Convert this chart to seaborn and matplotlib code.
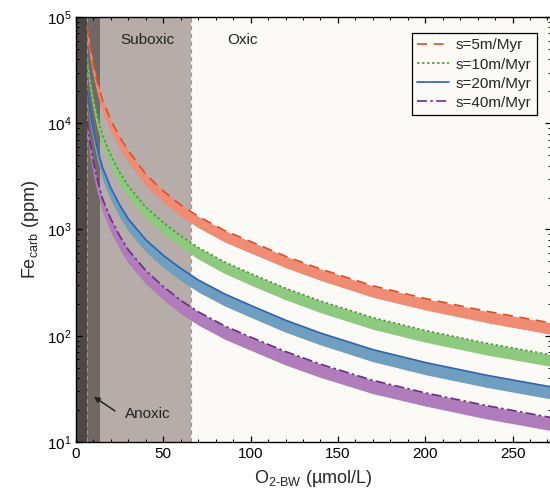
import numpy as np
import matplotlib
matplotlib.use("Agg")
import matplotlib.pyplot as plt
import seaborn as sns
from matplotlib.ticker import MultipleLocator, LogLocator

# O2 values (umol/L) where curves were read
o2 = [6.4, 7, 8, 10, 12, 15, 20, 25, 30, 40, 50, 60, 70, 85, 100, 120, 140, 170, 200, 235, 272]

# upper edge (line) and lower edge (band) of each burial-rate curve, ppm
s5_top = [80500, 68000, 53000, 35000, 25000, 16800, 10600, 7400, 5500, 3300, 2300, 1700, 1330, 980, 770, 560, 425, 295, 224, 170, 132]
s5_low = [62800, 53000, 41300, 27300, 19500, 13100, 8270, 5770, 4290, 2570, 1790, 1330, 1040, 764, 600, 437, 332, 230, 175, 133, 103]
s10_top = [42000, 34000, 26000, 16800, 11800, 7800, 4950, 3450, 2550, 1620, 1160, 870, 675, 495, 385, 280, 212, 148, 112, 85, 66]
s10_low = [32800, 26500, 20300, 13100, 9200, 6080, 3860, 2690, 1990, 1260, 905, 679, 527, 386, 300, 218, 165, 115, 87, 66, 51.5]
s20_top = [20500, 17000, 13000, 8500, 6000, 3900, 2450, 1700, 1250, 800, 570, 430, 335, 248, 193, 140, 106, 74, 56, 42.5, 33]
s20_low = [15800, 13100, 10000, 6550, 4620, 3000, 1890, 1310, 963, 616, 439, 331, 258, 191, 149, 108, 82, 57, 43, 32.7, 25.4]
s40_top = [10500, 8600, 6600, 4300, 3050, 1980, 1250, 870, 640, 410, 290, 215, 168, 124, 97, 71, 54, 38, 29, 22, 17]
s40_low = [7880, 6450, 4950, 3230, 2290, 1490, 940, 650, 480, 308, 218, 161, 126, 93, 73, 53, 40.5, 28.5, 21.8, 16.5, 12.8]

labels = ["s=5m/Myr", "s=10m/Myr", "s=20m/Myr", "s=40m/Myr"]

# redox zone boundaries
anoxic_edge = 6.3
anoxic_mid = 13.7
suboxic_edge = 66

sns.set_style("ticks")
plt.rcParams["font.family"] = ["Liberation Sans", "DejaVu Sans"]
plt.rcParams["mathtext.default"] = "regular"

fig = plt.figure(figsize=(5.5, 4.94), dpi=100)
ax = fig.add_axes([0.1382, 0.1053, 0.8636, 0.8603])
ax.set_facecolor("#fcfaf7")

# background zones
ax.axvspan(0, suboxic_edge, color="#b6aca9", lw=0, zorder=0)
ax.axvspan(0, anoxic_mid, color="#716765", lw=0, zorder=0)
ax.axvspan(0, anoxic_edge, color="#4f4745", lw=0, zorder=0)
for xv in [anoxic_edge, suboxic_edge]:
    ax.axvline(xv, color="#9a9a9a", lw=0.8, ls=(0, (4, 3)), zorder=1)

bands = [s5_low, s10_low, s20_low, s40_low]
tops = [s5_top, s10_top, s20_top, s40_top]
band_cols = ["#f08b74", "#8ec980", "#6f9ec0", "#b07cbc"]
line_cols = ["#d4532f", "#4e9a3a", "#2f62a8", "#6a2e80"]
styles = [(0, (6, 4)), (0, (1.5, 1.5)), "-", (0, (6, 2, 1.5, 2))]

for top, low, bc, lc, st, lab in zip(tops, bands, band_cols, line_cols, styles, labels):
    ax.fill_between(o2, low, top, color=bc, lw=0, zorder=2)
    sns.lineplot(x=o2, y=top, color=lc, lw=1.2, ls=st, ax=ax, label=lab, zorder=3)

ax.set_yscale("log")
ax.set_xlim(0, 272)
ax.set_ylim(10, 1e5)

ax.xaxis.set_major_locator(MultipleLocator(50))
ax.xaxis.set_minor_locator(MultipleLocator(10))
ax.yaxis.set_major_locator(LogLocator(base=10))
ax.yaxis.set_minor_locator(LogLocator(base=10, subs=np.arange(2, 10)))
ax.tick_params(which="both", direction="in", top=True, right=True, labelsize=11, colors="black")
ax.tick_params(which="major", length=4.5, width=0.9)
ax.tick_params(which="minor", length=2.5, width=0.7)
for sp in ax.spines.values():
    sp.set_linewidth(1.0)
    sp.set_color("black")

ax.set_xlabel("O$_{2\u2010BW}$ (\u00b5mol/L)", fontsize=13, labelpad=5)
ax.set_ylabel("Fe$_{carb}$ (ppm)", fontsize=13, labelpad=4)

ax.text(25.2, 6.1e4, "Suboxic", fontsize=11, va="center", ha="left", color="#222222")
ax.text(86.4, 6.1e4, "Oxic", fontsize=11, va="center", ha="left", color="#222222")
ax.text(28, 18.4, "Anoxic", fontsize=11, va="center", ha="left", color="#222222")
ax.annotate("", xy=(10.3, 26.6), xytext=(22.3, 19.6),
            arrowprops=dict(arrowstyle="-|>", color="#222222", lw=1.1, shrinkA=0, shrinkB=0,
                            mutation_scale=8))

leg = ax.legend(loc="upper right", bbox_to_anchor=(0.9705, 0.962), borderaxespad=0,
                fontsize=11, frameon=True, fancybox=False, handlelength=2.1,
                labelspacing=0.33, handletextpad=0.45, borderpad=0.35)
leg.get_frame().set_edgecolor("black")
leg.get_frame().set_linewidth(0.9)
leg.get_frame().set_facecolor("#fcfaf7")
leg.get_frame().set_alpha(1)

fig.savefig("out.png", dpi=100)
